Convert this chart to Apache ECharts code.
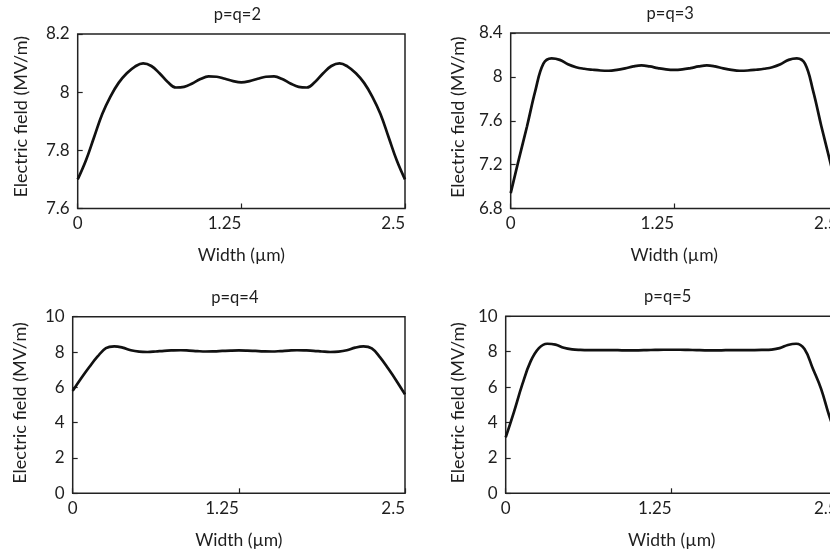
<!DOCTYPE html>
<html>
<head>
<meta charset="utf-8">
<script src="https://cdn.jsdelivr.net/npm/echarts@6/dist/echarts.min.js"></script>
<style>
html,body{margin:0;padding:0;background:#fff;}
#chart{width:830px;height:553px;}
</style>
</head>
<body>
<div id="chart"></div>
<script>
var titles = ['p=q=2', 'p=q=3', 'p=q=4', 'p=q=5'];
var xName = 'Width (\u00b5m)';
var yName = 'Electric field (MV/m)';
var xTicks = [0, 1.25, 2.5];
var widthX = [0, 0.0625, 0.125, 0.1875, 0.25, 0.3125, 0.375, 0.4375, 0.5, 0.5625,
  0.625, 0.6875, 0.75, 0.8125, 0.875, 0.9375, 1.0, 1.0625, 1.125, 1.1875,
  1.25, 1.3125, 1.375, 1.4375, 1.5, 1.5625, 1.625, 1.6875, 1.75, 1.8125,
  1.875, 1.9375, 2.0, 2.0625, 2.125, 2.1875, 2.25, 2.3125, 2.375, 2.4375, 2.5];
var fieldP2 = [7.700, 7.765, 7.845, 7.925, 7.985, 8.032, 8.065, 8.088, 8.099, 8.090,
  8.065, 8.035, 8.016, 8.018, 8.030, 8.045, 8.054, 8.053, 8.046, 8.038,
  8.034, 8.038, 8.046, 8.053, 8.054, 8.045, 8.030, 8.018, 8.016, 8.035,
  8.065, 8.090, 8.099, 8.088, 8.065, 8.032, 7.985, 7.925, 7.845, 7.765, 7.700];
var fieldP3 = [6.94, 7.25, 7.55, 7.87, 8.12, 8.168, 8.155, 8.115, 8.088, 8.074,
  8.065, 8.058, 8.056, 8.064, 8.078, 8.095, 8.104, 8.095, 8.080, 8.068,
  8.063, 8.068, 8.080, 8.095, 8.104, 8.095, 8.078, 8.064, 8.056, 8.058,
  8.065, 8.074, 8.088, 8.115, 8.155, 8.168, 8.12, 7.87, 7.55, 7.25, 6.94];
var fieldP4 = [5.80, 6.50, 7.15, 7.75, 8.22, 8.32, 8.25, 8.10, 8.02, 8.00,
  8.03, 8.07, 8.09, 8.10, 8.08, 8.05, 8.03, 8.04, 8.06, 8.08,
  8.09, 8.08, 8.06, 8.04, 8.03, 8.05, 8.08, 8.10, 8.09, 8.07,
  8.03, 8.00, 8.02, 8.10, 8.25, 8.32, 8.20, 7.70, 7.05, 6.35, 5.60];
var fieldP5 = [3.16, 4.60, 6.15, 7.45, 8.20, 8.45, 8.40, 8.22, 8.13, 8.10,
  8.09, 8.09, 8.09, 8.09, 8.08, 8.08, 8.08, 8.09, 8.10, 8.11,
  8.11, 8.11, 8.10, 8.09, 8.08, 8.08, 8.08, 8.09, 8.09, 8.09,
  8.09, 8.10, 8.12, 8.20, 8.38, 8.45, 8.15, 7.05, 5.90, 4.35, 3.10];
var yMins = [7.6, 6.8, 0, 0];
var yMaxs = [8.2, 8.4, 10, 10];
var yIntervals = [0.2, 0.4, 2, 2];

var fields = [fieldP2, fieldP3, fieldP4, fieldP5];
var grids = [
  {left: 77.7, top: 34, width: 327.3, height: 174.5},
  {left: 510.7, top: 33, width: 327, height: 175.5},
  {left: 72.7, top: 316.7, width: 332.3, height: 176.6},
  {left: 505.7, top: 316.3, width: 332, height: 177}
];
var yNameGaps = [48, 44, 44, 39];
var yNameShift = [9, 7, 4, 4];
var FONT = 'Lato';
var TXT = '#1e1e1e';

var option = {
  backgroundColor: '#fff',
  animation: false,
  title: [], grid: [], xAxis: [], yAxis: [], series: []
};
for (var i = 0; i < 4; i++) {
  var g = grids[i];
  option.title.push({
    text: titles[i],
    left: g.left + g.width / 2 - 4,
    top: g.top - 28,
    textAlign: 'center',
    padding: 0,
    textStyle: {fontFamily: FONT, fontSize: 16.5, fontWeight: 'normal', color: TXT}
  });
  option.grid.push({
    left: g.left, top: g.top, width: g.width, height: g.height,
    outerBoundsMode: 'none', containLabel: false,
    show: true, borderColor: '#222', borderWidth: 1.5, backgroundColor: '#fff'
  });
  option.xAxis.push({
    type: 'value', gridIndex: i, min: xTicks[0], max: xTicks[2], interval: xTicks[1],
    name: xName, nameLocation: 'middle', nameGap: 38,
    nameTextStyle: {fontFamily: FONT, fontSize: 17.5, color: TXT},
    axisLine: {show: false},
    axisTick: {show: true, inside: true, length: 5, lineStyle: {color: '#222', width: 1.2}},
    splitLine: {show: false},
    axisLabel: {
      fontFamily: FONT, fontSize: 17, color: TXT, margin: 7,
      align: 'right', alignMinLabel: 'center', alignMaxLabel: 'right'
    }
  });
  option.yAxis.push({
    type: 'value', gridIndex: i, min: yMins[i], max: yMaxs[i], interval: yIntervals[i],
    name: yName, nameLocation: 'middle', nameGap: yNameGaps[i],
    nameTextStyle: {fontFamily: FONT, fontSize: 18, color: TXT, padding: [0, 0, 0, yNameShift[i]]},
    axisLine: {show: false},
    axisTick: {show: true, inside: true, length: 5, lineStyle: {color: '#222', width: 1.2}},
    splitLine: {show: false},
    axisLabel: {fontFamily: FONT, fontSize: 17, color: TXT, margin: 8}
  });
  var pts = [];
  for (var k = 0; k < widthX.length; k++) pts.push([widthX[k], fields[i][k]]);
  option.series.push({
    type: 'line', xAxisIndex: i, yAxisIndex: i, data: pts,
    smooth: 0.4, showSymbol: false, clip: true,
    lineStyle: {color: '#111', width: 2.7}
  });
}
var chart = echarts.init(document.getElementById('chart'), null, {renderer: 'canvas'});
chart.setOption(option);
</script>
</body>
</html>
